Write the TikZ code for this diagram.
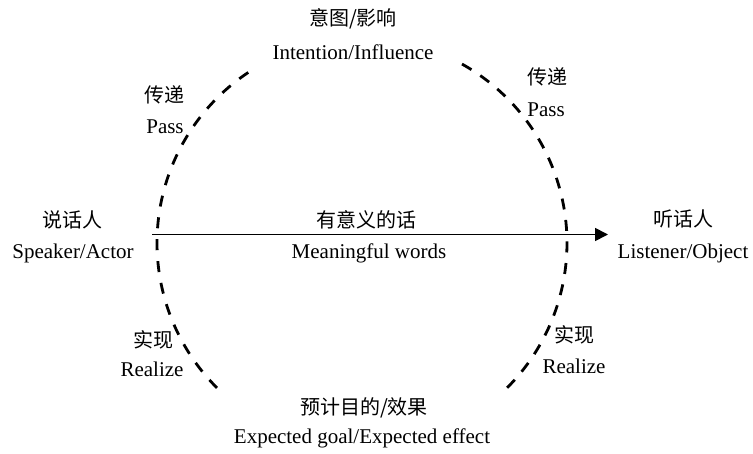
\documentclass[tikz,border=0pt]{standalone}
\usepackage{fontspec}
\setmainfont{Liberation Serif}
\newfontfamily\zhfont{Noto Sans CJK SC}
\usetikzlibrary{arrows.meta}
\tikzset{
  zh/.style={font=\zhfont\fontsize{20}{24}\selectfont, anchor=base, inner sep=0pt},
  en/.style={font=\fontsize{21}{25}\selectfont, anchor=base, inner sep=0pt},
  dasharc/.style={line width=2.8pt},
  msg/.style={line width=1.7pt, -{Triangle[length=13pt,width=13pt]}}
}
\begin{document}
\begin{tikzpicture}[x=1pt,y=-1pt]
\useasboundingbox (0,0) rectangle (753,454);
\coordinate (c) at (362,243);
% dashed arcs
\draw[dasharc, dash pattern=on 11pt off 10.96pt] (c) ++(123.7:205pt) arc[start angle=123.7, end angle=225, radius=205pt];
\draw[dasharc, dash pattern=on 11pt off 10.6pt] (c) ++(60.8:205pt) arc[start angle=60.8, end angle=-45, radius=205pt];
% main arrow
\coordinate (s) at (152,234.5);
\coordinate (t) at (608,234.5);
\draw[msg] (s) -- (t);
% labels
\node[zh] (spzh) at (72,228) {说话人};
\node[en] (spen) at (73,259) {Speaker/Actor};
\node[zh] (lizh) at (683,227) {听话人};
\node[en] (lien) at (683,259) {Listener/Object};
\node[zh] (mwzh) at (366,228) {有意义的话};
\node[en] (mwen) at (369,259) {Meaningful words};
\node[zh] (inzh) at (353,26) {意图/影响};
\node[en] (inen) at (353,60) {Intention/Influence};
\node[zh] (p1zh) at (164,103) {传递};
\node[en] (p1en) at (165,134) {Pass};
\node[zh] (p2zh) at (547,85) {传递};
\node[en] (p2en) at (546,117) {Pass};
\node[zh] (r1zh) at (153,348) {实现};
\node[en] (r1en) at (152,377) {Realize};
\node[zh] (r2zh) at (574,343) {实现};
\node[en] (r2en) at (574,374) {Realize};
\node[zh] (egzh) at (364,415) {预计目的/效果};
\node[en] (egen) at (362,443) {Expected goal/Expected effect};
\end{tikzpicture}
\end{document}
